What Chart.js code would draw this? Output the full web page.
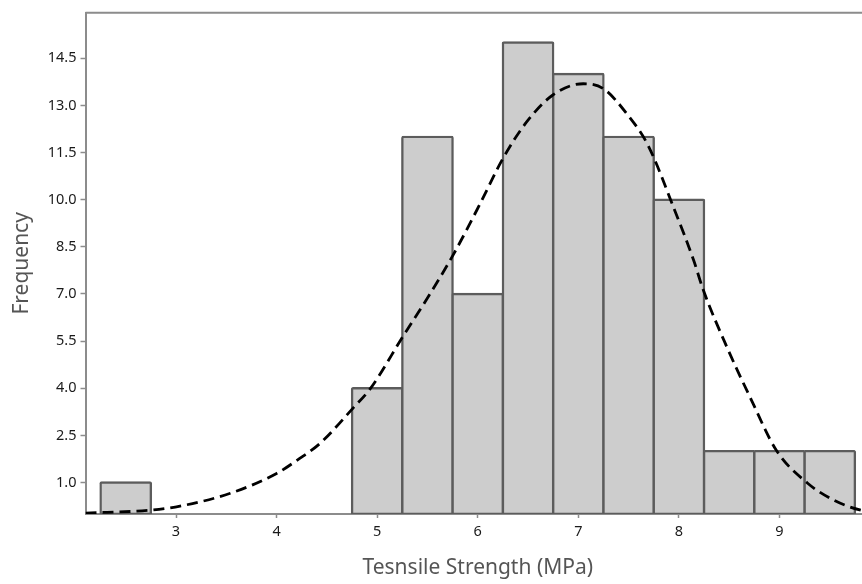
<!DOCTYPE html>
<html>
<head>
<meta charset="utf-8">
<title>Tensile strength histogram</title>
<script src="https://cdn.jsdelivr.net/npm/chart.js@4.4.1/dist/chart.umd.min.js"></script>
<style>
  html, body { margin: 0; padding: 0; background: #ffffff; overflow: hidden; }
  #wrap { width: 862px; height: 584px; overflow: hidden; }
  canvas { display: block; }
</style>
</head>
<body>
<div id="wrap"><canvas id="chart" width="872" height="584"></canvas></div>
<script>
// Histogram bins (bin width 0.5 MPa) given by their centres
const binCenters = [2.5, 5.0, 5.5, 6.0, 6.5, 7.0, 7.5, 8.0, 8.5, 9.0, 9.5];
const frequencies = [1, 4, 12, 7, 15, 14, 12, 10, 2, 2, 2];

// Fitted distribution curve, sampled points
const curveX = [2.10, 2.74, 3.04, 3.54, 4.00, 4.23, 4.43, 4.76, 4.93, 5.26, 5.50, 5.76, 6.02, 6.25, 6.49, 6.75, 7.05, 7.25, 7.49, 7.69, 7.95, 8.15, 8.24, 8.48, 8.71, 8.97, 9.28, 9.54, 9.81, 9.90];
const curveY = [0.03, 0.12, 0.25, 0.66, 1.29, 1.77, 2.24, 3.37, 3.98, 5.67, 6.87, 8.27, 9.85, 11.31, 12.49, 13.34, 13.69, 13.53, 12.70, 11.75, 9.73, 8.04, 7.15, 5.29, 3.70, 2.02, 0.98, 0.44, 0.12, 0.08];

// Axis ticks
const xTickValues = [3, 4, 5, 6, 7, 8, 9];
const yTickValues = [1.0, 2.5, 4.0, 5.5, 7.0, 8.5, 10.0, 11.5, 13.0, 14.5];

const xTitle = 'Tesnsile Strength (MPa)';
const yTitle = 'Frequency';

const FONT = '"Noto Sans", "Open Sans", sans-serif';
const AXIS_GREY = '#8c8c8c';

// Top/right edge of the plot frame
const framePlugin = {
  id: 'plotFrame',
  beforeDatasetsDraw(chart) {
    const { ctx, chartArea: a } = chart;
    ctx.save();
    ctx.strokeStyle = AXIS_GREY;
    ctx.lineWidth = 2;
    ctx.beginPath();
    ctx.moveTo(a.left, a.top);
    ctx.lineTo(a.right, a.top);
    ctx.lineTo(a.right, a.bottom);
    ctx.stroke();
    ctx.restore();
  }
};

const barData = binCenters.map((c, i) => ({ x: c, y: frequencies[i] }));
const curveData = curveX.map((x, i) => ({ x: x, y: curveY[i] }));

new Chart(document.getElementById('chart'), {
  type: 'bar',
  data: {
    datasets: [
      {
        type: 'line',
        data: curveData,
        borderColor: '#000000',
        borderWidth: 2.8,
        borderDash: [11, 6],
        pointRadius: 0,
        fill: false,
        cubicInterpolationMode: 'monotone',
        order: 0
      },
      {
        type: 'bar',
        data: barData,
        backgroundColor: '#cdcdcd',
        borderColor: '#5c5c5c',
        borderWidth: 2.4,
        borderSkipped: false,
        borderRadius: 2,
        inflateAmount: 1.2,
        barPercentage: 1.0,
        categoryPercentage: 1.0,
        order: 1
      }
    ]
  },
  options: {
    responsive: false,
    animation: false,
    devicePixelRatio: 1,
    layout: { padding: { top: 11, right: 2, left: 0, bottom: 0 } },
    plugins: {
      legend: { display: false },
      tooltip: { enabled: false }
    },
    scales: {
      x: {
        type: 'linear',
        offset: false,
        min: 2.1,
        max: 9.9,
        afterFit(scale) { scale.height = 70; },
        afterBuildTicks(scale) { scale.ticks = xTickValues.map(v => ({ value: v })); },
        grid: {
          display: true,
          offset: false,
          drawOnChartArea: false,
          drawTicks: true,
          tickLength: 4,
          tickWidth: 1.5,
          tickColor: AXIS_GREY
        },
        border: { display: true, color: AXIS_GREY, width: 2 },
        ticks: {
          color: '#1a1a1a',
          padding: 5,
          maxRotation: 0,
          font: { family: FONT, size: 14.5 },
          callback: v => String(v)
        },
        title: {
          display: true,
          text: xTitle,
          color: '#555555',
          padding: { top: 0, bottom: 3.5 },
          font: { family: FONT, size: 21 }
        }
      },
      y: {
        type: 'linear',
        min: 0,
        max: 15.95,
        afterFit(scale) { scale.width = 85.5; },
        afterBuildTicks(scale) { scale.ticks = yTickValues.map(v => ({ value: v })); },
        grid: {
          display: true,
          drawOnChartArea: false,
          drawTicks: true,
          tickLength: 5,
          tickWidth: 1.5,
          tickColor: AXIS_GREY
        },
        border: { display: true, color: AXIS_GREY, width: 2 },
        ticks: {
          color: '#1a1a1a',
          padding: 4,
          font: { family: FONT, size: 14.5 },
          callback: v => Number(v).toFixed(1)
        },
        title: {
          display: true,
          text: yTitle,
          color: '#555555',
          padding: { top: 9.5, bottom: 0 },
          font: { family: FONT, size: 21 }
        }
      }
    }
  },
  plugins: [framePlugin]
});
</script>
</body>
</html>
